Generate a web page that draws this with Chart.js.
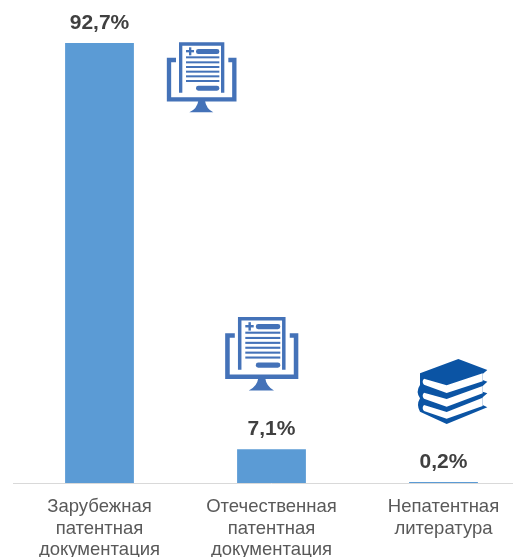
<!DOCTYPE html>
<html>
<head>
<meta charset="utf-8">
<script src="https://cdn.jsdelivr.net/npm/chart.js@4/dist/chart.umd.min.js"></script>
<style>
  html, body { margin: 0; padding: 0; background: #fff; overflow: hidden; }
  #wrap { width: 513px; height: 557px; overflow: hidden; }
</style>
</head>
<body>
<div id="wrap"><canvas id="chart" width="540" height="557"></canvas></div>
<script>
const categories = [
  ['Зарубежная', 'патентная', 'документация'],
  ['Отечественная', 'патентная', 'документация'],
  ['Непатентная', 'литература']
];
const shares = [92.7, 7.1, 0.2];
const shareLabels = ['92,7%', '7,1%', '0,2%'];

const FONT = '"Liberation Sans", Arial, sans-serif';

// monitor + document icon, coords taken from a 3x crop of the picture
function drawDocIcon(ctx, x, y, s) {
  ctx.save();
  ctx.translate(x, y);
  ctx.scale(s, s);
  ctx.filter = 'blur(0.5px)';
  ctx.fillStyle = ctx.strokeStyle = '#4472b8';
  ctx.lineCap = 'butt';
  ctx.lineWidth = 10;
  ctx.beginPath();
  ctx.moveTo(92, 188); ctx.lineTo(92, 42); ctx.lineTo(218, 42); ctx.lineTo(218, 188);
  ctx.stroke();
  ctx.lineWidth = 13;
  ctx.beginPath();
  ctx.moveTo(78, 90); ctx.lineTo(57, 90); ctx.lineTo(57, 208); ctx.lineTo(253, 208);
  ctx.lineTo(253, 90); ctx.lineTo(235, 90);
  ctx.stroke();
  // stand
  ctx.beginPath();
  ctx.moveTo(145, 212); ctx.lineTo(165, 212); ctx.quadraticCurveTo(168, 235, 190, 247);
  ctx.lineTo(118, 247); ctx.quadraticCurveTo(142, 235, 145, 212);
  ctx.fill();
  // plus and pills
  ctx.fillRect(108, 60, 24, 7);
  ctx.fillRect(117, 52, 7, 24);
  ctx.beginPath(); ctx.roundRect(138, 57, 70, 15, 7); ctx.fill();
  ctx.beginPath(); ctx.roundRect(138, 167, 70, 15, 7); ctx.fill();
  // text lines
  [82, 97, 111, 125, 139, 153].forEach(ly => ctx.fillRect(108, ly - 3, 100, 6));
  ctx.restore();
}

function drawBooks(ctx, x, y, s) {
  ctx.save();
  ctx.translate(x, y);
  ctx.scale(s, s);
  ctx.filter = 'blur(0.4px)';
  ctx.fillStyle = '#0b54a4';
  ctx.beginPath();
  ctx.moveTo(175, 27); ctx.lineTo(262, 60); ctx.lineTo(248, 72); ctx.lineTo(248, 90);
  ctx.lineTo(262, 95); ctx.lineTo(248, 108); ctx.lineTo(248, 125); ctx.lineTo(262, 130);
  ctx.lineTo(248, 142); ctx.lineTo(248, 165); ctx.lineTo(262, 172); ctx.lineTo(140, 222);
  ctx.lineTo(60, 185);
  ctx.quadraticCurveTo(48, 165, 60, 145);
  ctx.quadraticCurveTo(46, 125, 60, 105);
  ctx.lineTo(60, 70);
  ctx.closePath();
  ctx.fill();
  ctx.fillStyle = '#fff';
  [[86, 106, 70, 104, 129, 94], [128, 147, 108, 146, 170, 130], [165, 186, 143, 183, 206, 168]].forEach(p => {
    ctx.beginPath();
    ctx.moveTo(72, p[0]); ctx.lineTo(140, p[1]); ctx.lineTo(248, p[2]);
    ctx.lineTo(248, p[5]); ctx.lineTo(140, p[4]); ctx.lineTo(72, p[3]);
    ctx.quadraticCurveTo(64, (p[0] + p[3]) / 2, 72, p[0]);
    ctx.fill();
  });
  ctx.restore();
}

const labelsAndIcons = {
  id: 'labelsAndIcons',
  afterDatasetsDraw(chart) {
    const ctx = chart.ctx;
    const bars = chart.getDatasetMeta(0).data;
    ctx.save();
    ctx.font = 'bold 21px ' + FONT;
    ctx.fillStyle = '#404040';
    ctx.textAlign = 'center';
    ctx.textBaseline = 'middle';
    bars.forEach((bar, i) => ctx.fillText(shareLabels[i], bar.x, bar.y - 20));
    ctx.restore();

    drawDocIcon(ctx, 150, 30, 1 / 3);
    drawDocIcon(ctx, 207.5, 304, 0.35);
    drawBooks(ctx, 400, 350, 1 / 3);
  }
};

new Chart(document.getElementById('chart'), {
  type: 'bar',
  data: {
    labels: categories,
    datasets: [{
      data: shares,
      backgroundColor: '#5b9bd5',
      barPercentage: 0.4,
      categoryPercentage: 1
    }]
  },
  options: {
    responsive: false,
    animation: false,
    layout: { padding: { left: 13.5, right: 10.5, top: 8.4, bottom: 0 } },
    plugins: { legend: { display: false }, tooltip: { enabled: false } },
    scales: {
      x: {
        grid: { display: false },
        border: { display: true, color: '#d9d9d9', width: 1 },
        afterFit: scale => { scale.height = 74; },
        ticks: {
          autoSkip: false,
          maxRotation: 0,
          padding: 5,
          color: '#595959',
          font: { family: FONT, size: 18.5, lineHeight: 1.17 }
        }
      },
      y: { display: false, min: 0, max: 100 }
    }
  },
  plugins: [labelsAndIcons]
});
</script>
</body>
</html>
